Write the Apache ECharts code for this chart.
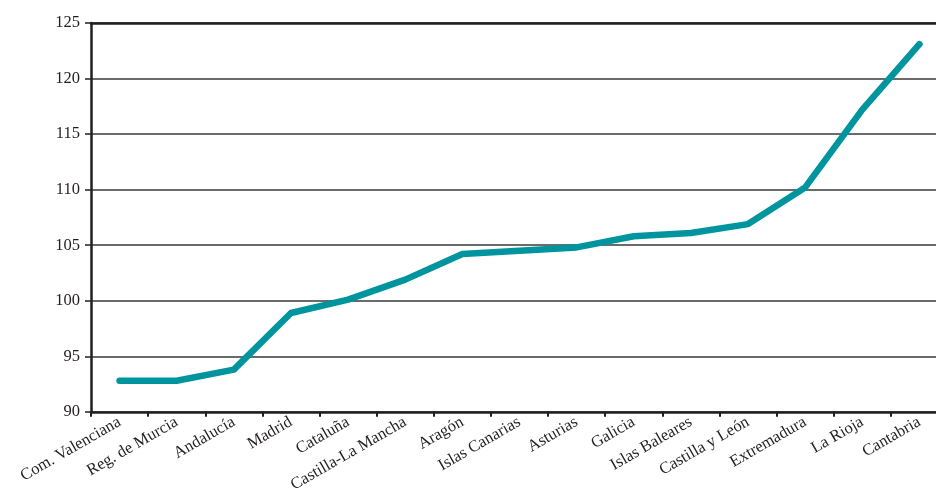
<!DOCTYPE html>
<html><head><meta charset="utf-8">
<script src="https://cdn.jsdelivr.net/npm/echarts@6/dist/echarts.min.js"></script>
<style>html,body{margin:0;padding:0;background:#fff;overflow:hidden;width:936px;height:495px}#c{width:960px;height:495px}</style>
</head><body><div id="c"></div>
<script>
const categories = ['Com. Valenciana','Reg. de Murcia','Andalucía','Madrid','Cataluña','Castilla-La Mancha','Aragón','Islas Canarias','Asturias','Galicia','Islas Baleares','Castilla y León','Extremadura','La Rioja','Cantabria'];
const values = [92.8, 92.8, 93.8, 98.9, 100.1, 101.9, 104.2, 104.5, 104.8, 105.8, 106.1, 106.9, 110.2, 117.2, 123.1];
const yTicks = {min: 90, max: 125, interval: 5};
const chart = echarts.init(document.getElementById('c'));
const font = 'Liberation Serif';
chart.setOption({
  animation: false,
  grid: {left: 91, right: 12, top: 23, bottom: 83, containLabel: false},
  xAxis: [{
    type: 'category', data: categories, boundaryGap: true,
    axisLine: {lineStyle: {color: '#231f20', width: 2.5}},
    axisTick: {show: true, length: 5, lineStyle: {color: '#231f20', width: 2}},
    axisLabel: {rotate: 30, interval: 0, margin: 9, fontFamily: font, fontSize: 16.5, color: '#231f20'}
  }, {
    type: 'category', data: categories, position: 'top',
    axisLine: {show: true, lineStyle: {color: '#231f20', width: 2.5}},
    axisTick: {show: false}, axisLabel: {show: false}
  }],
  yAxis: {
    type: 'value', min: yTicks.min, max: yTicks.max, interval: yTicks.interval,
    axisLine: {show: true, lineStyle: {color: '#231f20', width: 2.5}},
    axisTick: {show: true, length: 6, lineStyle: {color: '#231f20', width: 1.5}},
    axisLabel: {fontFamily: font, fontSize: 16.5, color: '#231f20', margin: 11},
    splitLine: {lineStyle: {color: '#3a3a3a', width: 1.5}}
  },
  series: [{
    type: 'line', data: values, symbol: 'none', xAxisIndex: 0,
    lineStyle: {color: '#00959e', width: 6.5, cap: 'round', join: 'round'}
  }]
});
</script></body></html>
